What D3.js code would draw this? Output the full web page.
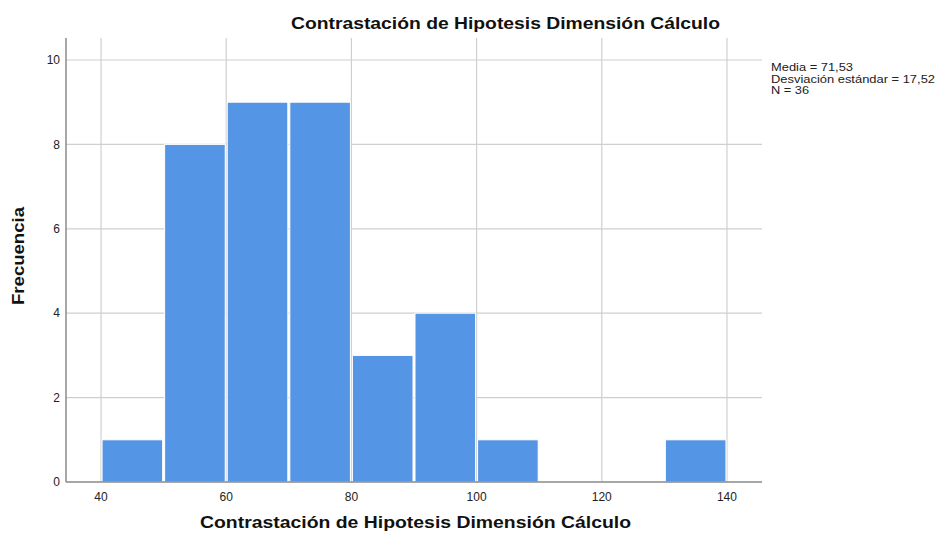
<!DOCTYPE html>
<html><head><meta charset="utf-8">
<script src="https://cdn.jsdelivr.net/npm/d3@7"></script>
<style>body{margin:0;background:#fff}svg{font-family:"Liberation Sans",Arial,sans-serif}</style>
</head><body>
<script>
const binStarts = [40, 50, 60, 70, 80, 90, 100, 110, 120, 130];
const binWidth = 10;
const counts = [1, 8, 9, 9, 3, 4, 1, 0, 0, 1];
const xTicks = [40, 60, 80, 100, 120, 140];
const yTicks = [0, 2, 4, 6, 8, 10];
const statsLines = ["Media = 71,53", "Desviación estándar = 17,52", "N = 36"];
const title = "Contrastación de Hipotesis Dimensión Cálculo";
const xTitle = "Contrastación de Hipotesis Dimensión Cálculo";
const yTitle = "Frecuencia";

const W = 940, H = 533;
const L = 66, R = 762, T = 38, B = 482;
const svg = d3.select("body").append("svg").attr("width", W).attr("height", H);
const x = d3.scaleLinear().domain([34.4, 145.6]).range([L, R]);
const y = d3.scaleLinear().domain([0, 10]).range([B, 60]);

// grid
svg.append("g").selectAll("line").data(xTicks).join("line")
  .attr("x1", d => x(d)).attr("x2", d => x(d)).attr("y1", T).attr("y2", B)
  .attr("stroke", "#cfcfcf").attr("stroke-width", 1.2);
svg.append("g").selectAll("line").data(yTicks.filter(d => d > 0)).join("line")
  .attr("x1", L).attr("x2", R).attr("y1", d => y(d)).attr("y2", d => y(d))
  .attr("stroke", "#cfcfcf").attr("stroke-width", 1.2);

// bars
const data = binStarts.map((s, i) => ({ s, c: counts[i] })).filter(d => d.c > 0);
svg.append("g").selectAll("rect").data(data).join("rect")
  .attr("x", d => x(d.s) + 1).attr("width", d => x(d.s + binWidth) - x(d.s) - 2)
  .attr("y", d => y(d.c)).attr("height", d => y(0) - y(d.c))
  .attr("fill", "#5595e5").attr("stroke", "#fff").attr("stroke-width", 1);

// axes lines
svg.append("line").attr("x1", L).attr("x2", L).attr("y1", T).attr("y2", B)
  .attr("stroke", "#8a8a8a").attr("stroke-width", 1.5);
svg.append("line").attr("x1", L).attr("x2", R).attr("y1", B).attr("y2", B)
  .attr("stroke", "#8a8a8a").attr("stroke-width", 1.5);

// tick labels
svg.append("g").selectAll("text").data(yTicks).join("text")
  .attr("x", 60).attr("y", d => y(d)).attr("dy", "0.35em")
  .attr("text-anchor", "end").attr("font-size", 12).attr("fill", "#222")
  .text(d => d);
svg.append("g").selectAll("text").data(xTicks).join("text")
  .attr("x", d => x(d)).attr("y", 501)
  .attr("text-anchor", "middle").attr("font-size", 12).attr("fill", "#222")
  .text(d => d);

// titles
svg.append("text").attr("x", 291).attr("y", 29)
  .attr("textLength", 429).attr("lengthAdjust", "spacingAndGlyphs")
  .attr("font-size", 17).attr("font-weight", "bold").attr("fill", "#111").text(title);
svg.append("text").attr("x", 200).attr("y", 528)
  .attr("textLength", 431).attr("lengthAdjust", "spacingAndGlyphs")
  .attr("font-size", 17).attr("font-weight", "bold").attr("fill", "#111").text(xTitle);
svg.append("text").attr("transform", "translate(24,305) rotate(-90)")
  .attr("textLength", 98).attr("lengthAdjust", "spacingAndGlyphs")
  .attr("font-size", 17).attr("font-weight", "bold").attr("fill", "#111").text(yTitle);

// stats
const statsLen = [82, 164, 38];
svg.append("g").selectAll("text").data(statsLines).join("text")
  .attr("x", 771).attr("y", (d, i) => 71 + i * 11.5)
  .attr("textLength", (d, i) => statsLen[i]).attr("lengthAdjust", "spacingAndGlyphs")
  .attr("font-size", 11.5).attr("fill", "#222").text(d => d);
</script>
</body></html>
